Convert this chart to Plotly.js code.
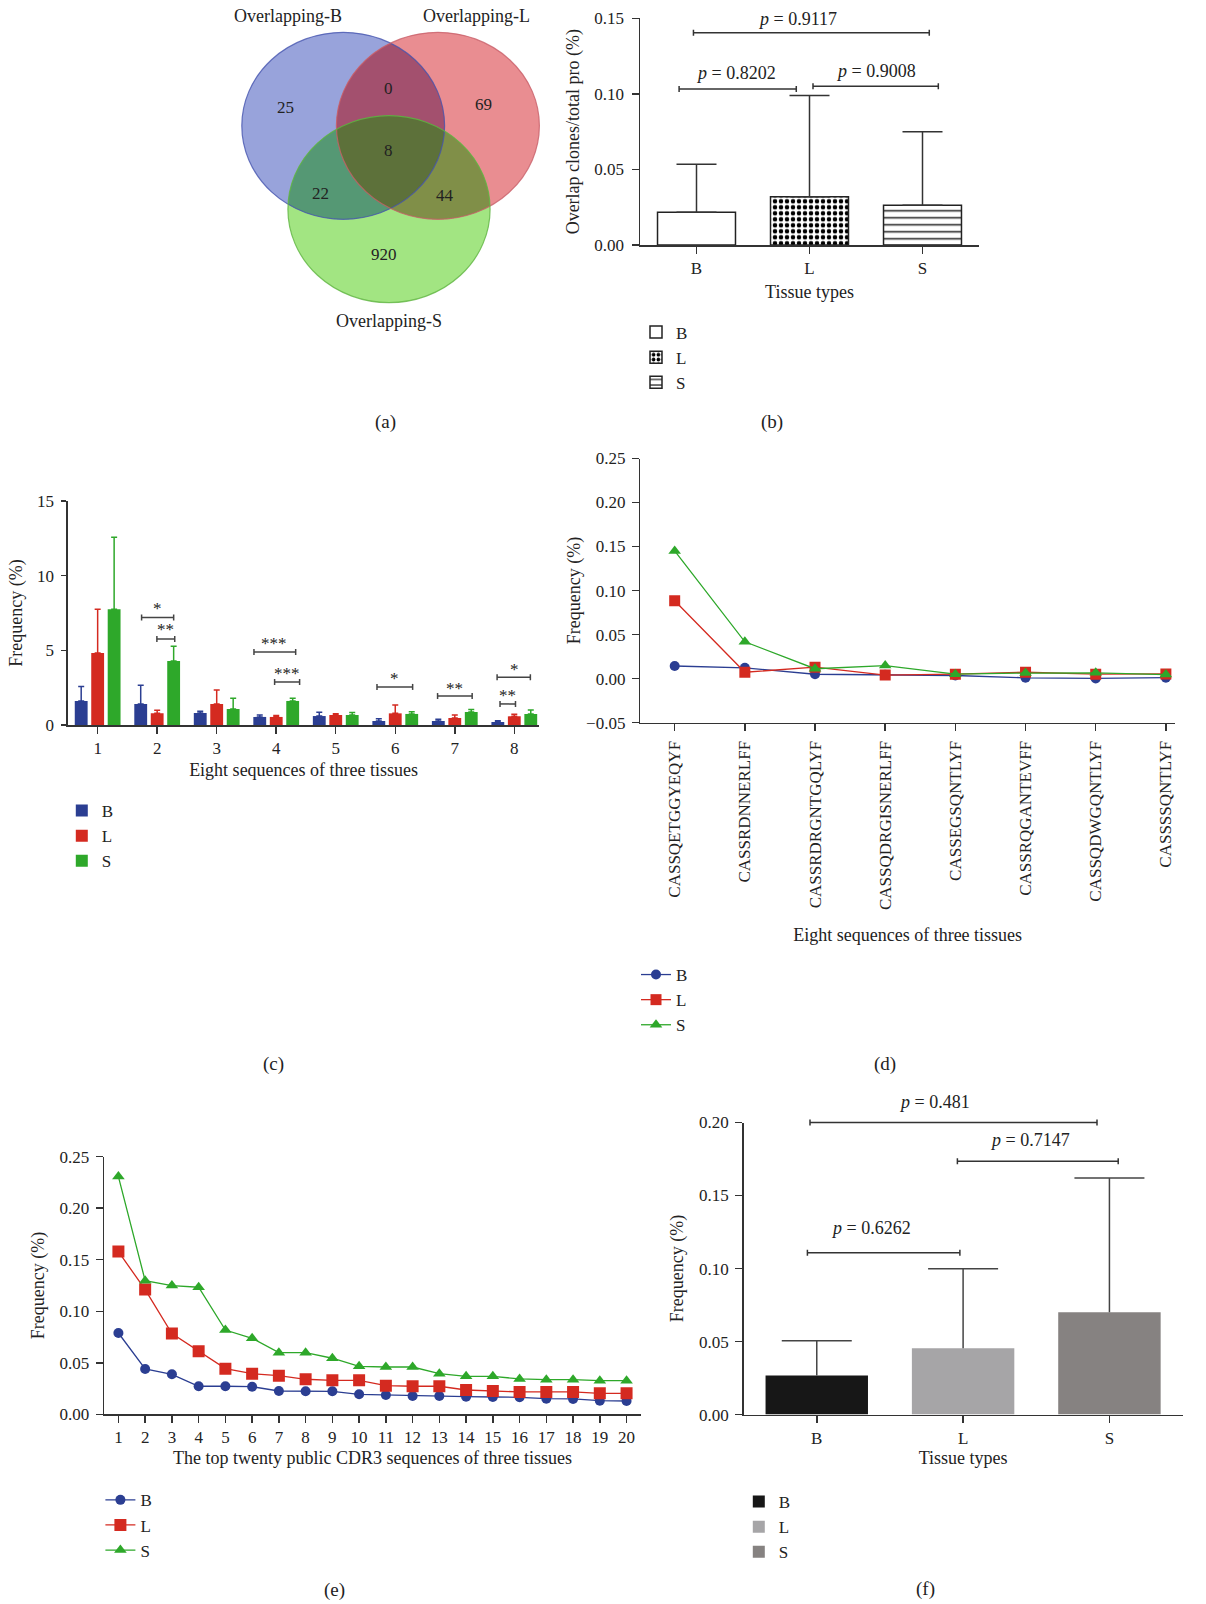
<!DOCTYPE html>
<html><head><meta charset="utf-8">
<script src="https://cdn.plot.ly/plotly-3.0.1.min.js"></script>
<style>html,body{margin:0;padding:0;background:#fff}#chart{width:1206px;height:1604px}</style>
</head><body><div id="chart"></div>
<script>
// ---------------- DATA ----------------
// (a) Venn
const vennSetNames = ['Overlapping-B', 'Overlapping-L', 'Overlapping-S'];
const vennRegionNames = ['B only', 'B∩L only', 'L only', 'B∩L∩S', 'B∩S only', 'L∩S only', 'S only'];
const vennCounts = [25, 0, 69, 8, 22, 44, 920];

// (b) overlap clones / total productive
const tissues = ['B', 'L', 'S'];
const overlapMean = [0.0216, 0.0320, 0.0263];
const overlapSD = [0.0318, 0.0670, 0.0487];
const overlapPvals = ['0.8202', '0.9008', '0.9117'];

// (c) eight sequences frequency (%)
const seqIndex = [1, 2, 3, 4, 5, 6, 7, 8];
const eightMeanB = [1.61, 1.41, 0.80, 0.54, 0.60, 0.27, 0.27, 0.20];
const eightSdB   = [0.96, 1.25, 0.12, 0.13, 0.25, 0.15, 0.11, 0.09];
const eightMeanL = [4.82, 0.78, 1.41, 0.54, 0.67, 0.78, 0.47, 0.58];
const eightSdL   = [2.93, 0.20, 0.93, 0.10, 0.09, 0.56, 0.20, 0.14];
const eightMeanS = [7.75, 4.29, 1.07, 1.61, 0.67, 0.74, 0.87, 0.74];
const eightSdS   = [4.82, 0.98, 0.72, 0.18, 0.16, 0.15, 0.16, 0.26];
const sigMarks = ['*', '**', '***', '***', '*', '**', '*', '**'];

// (d) eight CDR3 sequences
const cdr3Eight = ['CASSQETGGYEQYF', 'CASSRDNNERLFF', 'CASSRDRGNTGQLYF', 'CASSQDRGISNERLFF',
                   'CASSEGSQNTLYF', 'CASSRQGANTEVFF', 'CASSQDWGQNTLYF', 'CASSSSQNTLYF'];
const cdr3FreqB = [0.0143, 0.0122, 0.0049, 0.0044, 0.0035, 0.0009, 0.0002, 0.0010];
const cdr3FreqL = [0.0885, 0.0072, 0.0130, 0.0040, 0.0050, 0.0072, 0.0050, 0.0053];
const cdr3FreqS = [0.1450, 0.0418, 0.0112, 0.0148, 0.0050, 0.0063, 0.0065, 0.0045];

// (e) top twenty public CDR3
const topRank = [1,2,3,4,5,6,7,8,9,10,11,12,13,14,15,16,17,18,19,20];
const topFreqB = [0.0789,0.0440,0.0388,0.0272,0.0272,0.0268,0.0226,0.0223,0.0223,0.0194,
                  0.0187,0.0178,0.0178,0.0171,0.0168,0.0165,0.0152,0.0149,0.0132,0.0129];
const topFreqL = [0.1579,0.1210,0.0783,0.0612,0.0443,0.0394,0.0375,0.0340,0.0330,0.0330,
                  0.0278,0.0272,0.0272,0.0236,0.0226,0.0217,0.0217,0.0217,0.0204,0.0204];
const topFreqS = [0.2307,0.1297,0.1249,0.1233,0.0818,0.0738,0.0598,0.0598,0.0544,0.0466,
                  0.0459,0.0459,0.0394,0.0369,0.0369,0.0343,0.0336,0.0336,0.0326,0.0326];

// (f) public frequency by tissue
const publicMean = [0.0268, 0.0454, 0.0701];
const publicSD = [0.0238, 0.0544, 0.0919];
const publicPvals = ['0.481', '0.7147', '0.6262'];

// ---------------- LAYOUT HELPERS ----------------
const W = 1206, H = 1604;
const FONT = '"Liberation Serif", "Times New Roman", serif';
const TXT = '#222';
const AX = '#333';
const colB = '#2b3e92', colL = '#d42a20', colS = '#2ea82a';
const fx = p => p / W;
const fy = p => 1 - p / H;

function axis(extra) {
  return Object.assign({
    showline: true, linecolor: AX, linewidth: 1.5, ticks: 'outside', ticklen: 7,
    tickwidth: 1.5, tickcolor: AX, tickfont: {family: FONT, size: 17, color: TXT},
    showgrid: false, zeroline: false, fixedrange: true, automargin: false
  }, extra);
}
function ttl(text, standoff) { return {text: text, font: {family: FONT, size: 18, color: TXT}, standoff: standoff}; }
function leg(xpx, ytop) {
  return {x: fx(xpx), y: fy(ytop), xanchor: 'left', yanchor: 'top', bgcolor: 'rgba(0,0,0,0)',
          borderwidth: 0, font: {family: FONT, size: 17, color: TXT}, tracegroupgap: 0};
}
const shapes = [], annotations = [];
function bracket(xr, yr, x0, x1, y, color) {
  const ln = {color: color || '#333', width: 1.5};
  shapes.push({type: 'line', xref: xr, yref: yr, x0: x0, x1: x1, y0: y, y1: y, line: ln});
  [x0, x1].forEach(x => shapes.push({type: 'line', xref: xr, yref: yr, ysizemode: 'pixel', yanchor: y,
    x0: x, x1: x, y0: -3, y1: 3, line: ln}));
}
function note(xr, yr, x, y, text, size, dy) {
  annotations.push({xref: xr, yref: yr, x: x, y: y, yshift: dy || 0, text: text, showarrow: false,
    font: {family: FONT, size: size, color: TXT}, xanchor: 'center', yanchor: 'middle'});
}

// ---------------- (a) Venn ----------------
const vennCircles = [
  {cx: 343.2, cy: 125.8, rx: 101.4, ry: 93.5, fill: '#98a3db', line: 'rgba(70,85,175,0.8)'},
  {cx: 437.9, cy: 125.8, rx: 101.5, ry: 93.5, fill: '#e98d91', line: 'rgba(200,95,105,0.8)'},
  {cx: 389.0, cy: 209.2, rx: 101.1, ry: 93.5, fill: '#a2e582', line: 'rgba(95,180,65,0.8)'}
];
function ellPts(c, n) {
  const pts = [];
  for (let k = 0; k < n; k++) { const t = 2 * Math.PI * k / n; pts.push([c.cx + c.rx * Math.cos(t), c.cy + c.ry * Math.sin(t)]); }
  return pts;
}
function inside(p, c) { const a = (p[0] - c.cx) / c.rx, b = (p[1] - c.cy) / c.ry; return a * a + b * b <= 1.0000001; }
function regionPath(idx) {
  const cs = idx.map(i => vennCircles[i]);
  let pts = [];
  cs.forEach((c, i) => ellPts(c, 1440).forEach(p => { if (cs.every((d, j) => j === i || inside(p, d))) pts.push(p); }));
  const mx = pts.reduce((s, p) => s + p[0], 0) / pts.length, my = pts.reduce((s, p) => s + p[1], 0) / pts.length;
  pts.sort((a, b) => Math.atan2(a[1] - my, a[0] - mx) - Math.atan2(b[1] - my, b[0] - mx));
  return 'M' + pts.map(p => fx(p[0]).toFixed(5) + ',' + fy(p[1]).toFixed(5)).join('L') + 'Z';
}
vennCircles.forEach(c => shapes.push({type: 'circle', xref: 'paper', yref: 'paper', layer: 'below',
  x0: fx(c.cx - c.rx), x1: fx(c.cx + c.rx), y0: fy(c.cy + c.ry), y1: fy(c.cy - c.ry), fillcolor: c.fill, line: {width: 0}}));
[[[0, 1], '#a3506e'], [[0, 2], '#559874'], [[1, 2], '#808f48'], [[0, 1, 2], '#5d713a']].forEach(r =>
  shapes.push({type: 'path', xref: 'paper', yref: 'paper', layer: 'below', path: regionPath(r[0]), fillcolor: r[1], line: {width: 0}}));
vennCircles.forEach(c => shapes.push({type: 'circle', xref: 'paper', yref: 'paper', layer: 'below',
  x0: fx(c.cx - c.rx), x1: fx(c.cx + c.rx), y0: fy(c.cy + c.ry), y1: fy(c.cy - c.ry), fillcolor: 'rgba(0,0,0,0)', line: {color: c.line, width: 1.2}}));
const vennLabelPos = [[287.5, 15.7], [476, 15.7], [388.6, 321]];
vennSetNames.forEach((t, i) => note('paper', 'paper', fx(vennLabelPos[i][0]), fy(vennLabelPos[i][1]), t, 18));
const vennCountPos = [[285.7, 107.3], [388.6, 88.3], [483.2, 104.3], [388.6, 150], [320.4, 193.3], [445.4, 195], [383.9, 254.3]];
vennCounts.forEach((v, i) => note('paper', 'paper', fx(vennCountPos[i][0]), fy(vennCountPos[i][1]), String(v), 17));

// ---------------- traces ----------------
const data = [];
// (b)
const patB = [
  {shape: ''},
  {shape: '.', fgcolor: '#000', bgcolor: '#fff', size: 6, solidity: 0.45},
  {shape: '-', fgcolor: '#222', bgcolor: '#fff', size: 7, solidity: 0.22}
];
tissues.forEach((t, i) => data.push({
  type: 'bar', x: [t], y: [overlapMean[i]], xaxis: 'x', yaxis: 'y', name: t, legend: 'legend',
  width: 0.69, offset: -0.345,
  marker: {color: '#fff', line: {color: '#222', width: 1.5}, pattern: patB[i]},
  error_y: {type: 'data', array: [overlapSD[i]], arrayminus: [0], symmetric: false, color: '#333', thickness: 1.5, width: 20}
}));
// (c)
[[eightMeanB, eightSdB, colB, 'B'], [eightMeanL, eightSdL, colL, 'L'], [eightMeanS, eightSdS, colS, 'S']].forEach(s => data.push({
  type: 'bar', x: seqIndex, y: s[0], xaxis: 'x2', yaxis: 'y2', name: s[3], legend: 'legend2',
  marker: {color: s[2], line: {width: 0}},
  error_y: {type: 'data', array: s[1], arrayminus: s[1].map(() => 0), symmetric: false, color: s[2], thickness: 1.5, width: 3}
}));
// (d)
[[cdr3FreqB, colB, 'circle', 10, 'B'], [cdr3FreqL, colL, 'square', 11, 'L'], [cdr3FreqS, colS, 'triangle-up', 11, 'S']].forEach(s => data.push({
  type: 'scatter', mode: 'lines+markers', x: cdr3Eight, y: s[0], xaxis: 'x3', yaxis: 'y3', name: s[4], legend: 'legend3',
  line: {color: s[1], width: 1.3}, marker: {color: s[1], symbol: s[2], size: s[3]}
}));
// (e)
[[topFreqB, colB, 'circle', 10, 'B'], [topFreqL, colL, 'square', 12, 'L'], [topFreqS, colS, 'triangle-up', 11, 'S']].forEach(s => data.push({
  type: 'scatter', mode: 'lines+markers', x: topRank, y: s[0], xaxis: 'x4', yaxis: 'y4', name: s[4], legend: 'legend4',
  line: {color: s[1], width: 1.3}, marker: {color: s[1], symbol: s[2], size: s[3]}
}));
// (f)
const colF = ['#171717', '#a6a5a7', '#868281'];
tissues.forEach((t, i) => data.push({
  type: 'bar', x: [t], y: [publicMean[i]], xaxis: 'x5', yaxis: 'y5', name: t, legend: 'legend5',
  width: 0.70, offset: -0.35, marker: {color: colF[i], line: {width: 0}},
  error_y: {type: 'data', array: [publicSD[i]], arrayminus: [0], symmetric: false, color: '#444', thickness: 1.5, width: 0}
}));
// (f) error-bar caps (top only)
data.push({
  type: 'scatter', mode: 'markers', x: tissues, y: publicMean.map((m, i) => m + publicSD[i]), xaxis: 'x5', yaxis: 'y5',
  showlegend: false, hoverinfo: 'skip', cliponaxis: false,
  marker: {symbol: 'line-ew', size: 50, color: '#444', line: {color: '#444', width: 1.5}}
});

// ---------------- brackets & p-values ----------------
// (b)
bracket('x', 'y', -0.154, 0.883, 0.1032); note('x', 'y', 0.347, 0.1032, '<i>p</i> = ' + overlapPvals[0], 18, 16);
bracket('x', 'y', 1.031, 2.14, 0.1050);  note('x', 'y', 1.59, 0.1050, '<i>p</i> = ' + overlapPvals[1], 18, 15);
bracket('x', 'y', -0.027, 2.06, 0.1405); note('x', 'y', 0.89, 0.1405, '<i>p</i> = ' + overlapPvals[2], 18, 14);
// (c)
const sigBr = [[1.738, 2.277, 7.20, 2.00, 7.92], [1.995, 2.295, 5.76, 2.14, 6.50], [3.626, 4.327, 4.89, 3.97, 5.58],
               [3.973, 4.393, 2.88, 4.18, 3.55], [5.693, 6.292, 2.55, 5.99, 3.24], [6.711, 7.292, 1.94, 7.00, 2.61],
               [7.711, 8.270, 3.19, 8.00, 3.84], [7.760, 8.020, 1.41, 7.88, 2.08]];
sigBr.forEach((b, i) => { bracket('x2', 'y2', b[0], b[1], b[2], '#444'); note('x2', 'y2', b[3], b[4], sigMarks[i], 17, -2); });
// (f) top bracket sits on the upper edge of the plot area -> drawn in paper space so it is not clipped
bracket('paper', 'paper', fx(810), fx(1097), fy(1122.5)); note('x5', 'y5', 0.804, 0.2000, '<i>p</i> = ' + publicPvals[0], 18, 21);
bracket('x5', 'y5', 0.961, 2.060, 0.1735); note('x5', 'y5', 1.456, 0.1735, '<i>p</i> = ' + publicPvals[1], 18, 21);
bracket('x5', 'y5', -0.064, 0.978, 0.1108); note('x5', 'y5', 0.371, 0.1108, '<i>p</i> = ' + publicPvals[2], 18, 25);

// panel labels
[['(a)', 385.7, 421.7], ['(b)', 771.7, 421.7], ['(c)', 273.1, 1063.8], ['(d)', 884.8, 1063.8], ['(e)', 334.7, 1590], ['(f)', 925.2, 1589]]
  .forEach(l => note('paper', 'paper', fx(l[1]), fy(l[2]), l[0], 19));

// ---------------- layout ----------------
const layout = {
  width: W, height: H, margin: {l: 0, r: 0, t: 0, b: 0}, paper_bgcolor: '#fff', plot_bgcolor: 'rgba(0,0,0,0)',
  font: {family: FONT, size: 17, color: TXT}, showlegend: true,
  barmode: 'group', bargap: 0.17, bargroupgap: 0.22,
  // (b)
  xaxis: axis({domain: [fx(640), fx(979)], anchor: 'y', type: 'category', range: [-0.5, 2.5], ticklabelstandoff: 0, title: ttl('Tissue types', 8)}),
  yaxis: axis({domain: [fy(245), fy(18.3)], anchor: 'x', range: [0, 0.15], dtick: 0.05, tickformat: '.2f', ticklabelstandoff: 4, title: ttl('Overlap clones/total pro (%)', 10)}),
  // (c)
  xaxis2: axis({domain: [fx(67.9), fx(539.3)], anchor: 'y2', range: [0.5, 8.42], tickvals: seqIndex, ticklabelstandoff: 0, title: ttl('Eight sequences of three tissues', 6)}),
  yaxis2: axis({domain: [fy(725), fy(501)], anchor: 'x2', range: [0, 15], dtick: 5, ticklen: 5, ticklabelstandoff: 4, title: ttl('Frequency (%)', 9)}),
  // (d)
  xaxis3: axis({domain: [fx(640.3), fx(1175)], anchor: 'y3', type: 'category', range: [-0.49, 7.13], tickangle: -90, ticklabelstandoff: 3, title: ttl('Eight sequences of three tissues', 19)}),
  yaxis3: axis({domain: [fy(722.6), fy(458.5)], anchor: 'x3', range: [-0.05, 0.25], dtick: 0.05, tickformat: '.2f', ticklabelstandoff: 3, title: ttl('Frequency (%)', 1)}),
  // (e)
  xaxis4: axis({domain: [fx(104.1), fx(641)], anchor: 'y4', range: [0.465, 20.54], dtick: 1, ticklabelstandoff: 0, title: ttl('The top twenty public CDR3 sequences of three tissues', 5)}),
  yaxis4: axis({domain: [fy(1414.3), fy(1156.7)], anchor: 'x4', range: [0, 0.25], dtick: 0.05, tickformat: '.2f', ticklabelstandoff: 3, title: ttl('Frequency (%)', 10)}),
  // (f)
  xaxis5: axis({domain: [fx(743.6), fx(1182.6)], anchor: 'y5', type: 'category', range: [-0.5, 2.5], ticklabelstandoff: 0, title: ttl('Tissue types', 5)}),
  yaxis5: axis({domain: [fy(1414.6), fy(1122.5)], anchor: 'x5', range: [0, 0.2], dtick: 0.05, tickformat: '.2f', ticklabelstandoff: 3, title: ttl('Frequency (%)', 10)}),
  legend: leg(636, 314.5), legend2: leg(61.8, 793), legend3: leg(636, 957), legend4: leg(100.4, 1482.3), legend5: leg(738.8, 1484),
  shapes: shapes, annotations: annotations
};

Plotly.newPlot('chart', data, layout, {staticPlot: true, displayModeBar: false});
</script></body></html>
